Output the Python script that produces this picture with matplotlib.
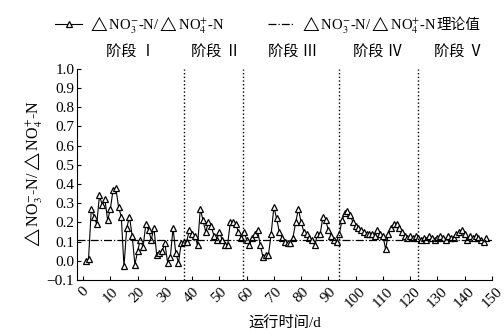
import matplotlib
matplotlib.use('Agg')
import matplotlib.pyplot as plt
import matplotlib.transforms as mtransforms
import numpy as np

plt.rcParams['font.family'] = ['Liberation Serif', 'Noto Sans CJK SC', 'DejaVu Sans']
plt.rcParams['mathtext.fontset'] = 'stix'

# data
days = np.arange(1, 149)
ratio = [
    0.00, 0.01, 0.27, 0.23, 0.19, 0.34, 0.29, 0.32, 0.21, 0.27,
    0.37, 0.38, 0.28, 0.23, -0.03, 0.17, 0.23, 0.13, -0.02, 0.05,
    0.11, 0.07, 0.19, 0.16, 0.11, 0.17, 0.03, 0.04, 0.05, 0.09,
    -0.01, 0.02, 0.17, 0.04, -0.01, 0.09, 0.10, 0.10, 0.16, 0.14,
    0.13, 0.08, 0.27, 0.21, 0.15, 0.20, 0.18, 0.13, 0.11, 0.15,
    0.11, 0.08, 0.08, 0.20, 0.20, 0.19, 0.15, 0.12, 0.15, 0.11,
    0.08, 0.12, 0.14, 0.16, 0.08, 0.02, 0.03, 0.03, 0.14, 0.28,
    0.22, 0.15, 0.12, 0.10, 0.09, 0.09, 0.12, 0.20, 0.27, 0.20,
    0.15, 0.14, 0.12, 0.11, 0.08, 0.14, 0.14, 0.23, 0.21, 0.16,
    0.13, 0.11, 0.10, 0.14, 0.21, 0.25, 0.26, 0.24, 0.20, 0.18,
    0.17, 0.16, 0.15, 0.14, 0.14, 0.14, 0.13, 0.16, 0.14, 0.13,
    0.06, 0.14, 0.17, 0.19, 0.19, 0.17, 0.15, 0.13, 0.12, 0.13,
    0.12, 0.13, 0.12, 0.11, 0.12, 0.11, 0.13, 0.12, 0.11, 0.12,
    0.13, 0.12, 0.11, 0.13, 0.12, 0.12, 0.14, 0.15, 0.16, 0.14,
    0.11, 0.13, 0.12, 0.13, 0.12, 0.11, 0.10, 0.12,
]
theory = 0.11
stage_bounds = [37, 58.5, 94, 123]
stage_names = ['阶段 Ⅰ', '阶段 Ⅱ', '阶段 Ⅲ', '阶段 Ⅳ', '阶段 Ⅴ']
stage_x = [17.6, 48.8, 77, 108.2, 137.9]

label_ratio = r'$\triangle$NO$_3^{-}$-N/$\triangle$NO$_4^{+}$-N'

fig = plt.figure(figsize=(5.04, 3.34), dpi=100)
ax = fig.add_axes([0.153, 0.162, 0.823, 0.632])

ax.plot(days, ratio, color='black', lw=0.8, marker='^', markersize=4.5,
        markerfacecolor='white', markeredgecolor='black', markeredgewidth=0.9,
        label=label_ratio)
ax.axhline(theory, color='black', lw=0.9, ls='-.', label=label_ratio)
for b in stage_bounds:
    ax.axvline(b, color='black', lw=1.0, ls=':')

trans = mtransforms.blended_transform_factory(ax.transData, ax.transAxes)
for name, sx in zip(stage_names, stage_x):
    ax.text(sx, 1.08, name, transform=trans, ha='center', va='center', fontsize=11)

ax.set_xlim(-2.2, 150)
ax.set_ylim(-0.1, 1.0)
ax.set_xticks(np.arange(0, 151, 10))
yt = np.round(np.arange(-0.1, 1.01, 0.1), 1)
ax.set_yticks(yt)
ax.set_yticklabels(['%.1f' % v if v >= 0 else '−0.1' for v in yt])
ax.tick_params(axis='both', labelsize=11, direction='in', length=3, width=0.8)
ax.tick_params(axis='y', pad=2)
for lab in ax.get_xticklabels():
    lab.set_rotation(45)
    lab.set_ha('center')
ax.spines['top'].set_visible(False)
ax.spines['right'].set_visible(False)

ax.set_ylabel(label_ratio, fontsize=11.5, labelpad=1)
ax.set_xlabel('运行时间/d', fontsize=11, labelpad=4)

leg = fig.legend(loc='center left', bbox_to_anchor=(0.11, 0.925), ncol=2, frameon=False,
                 fontsize=10.5, handlelength=1.8, columnspacing=3.0, handletextpad=0.4,
                 borderaxespad=0, borderpad=0)

# mathtext has no CJK glyphs, so the suffix is placed right after the legend text
fig.canvas.draw()
bb = leg.get_texts()[1].get_window_extent()
W, H = fig.get_size_inches() * fig.dpi
fig.text(bb.x1 / W, (bb.y0 + bb.y1) / 2 / H, '理论值', fontsize=10.5,
         ha='left', va='center', family=['Noto Sans CJK SC'])

plt.savefig('out.png', dpi=100)
